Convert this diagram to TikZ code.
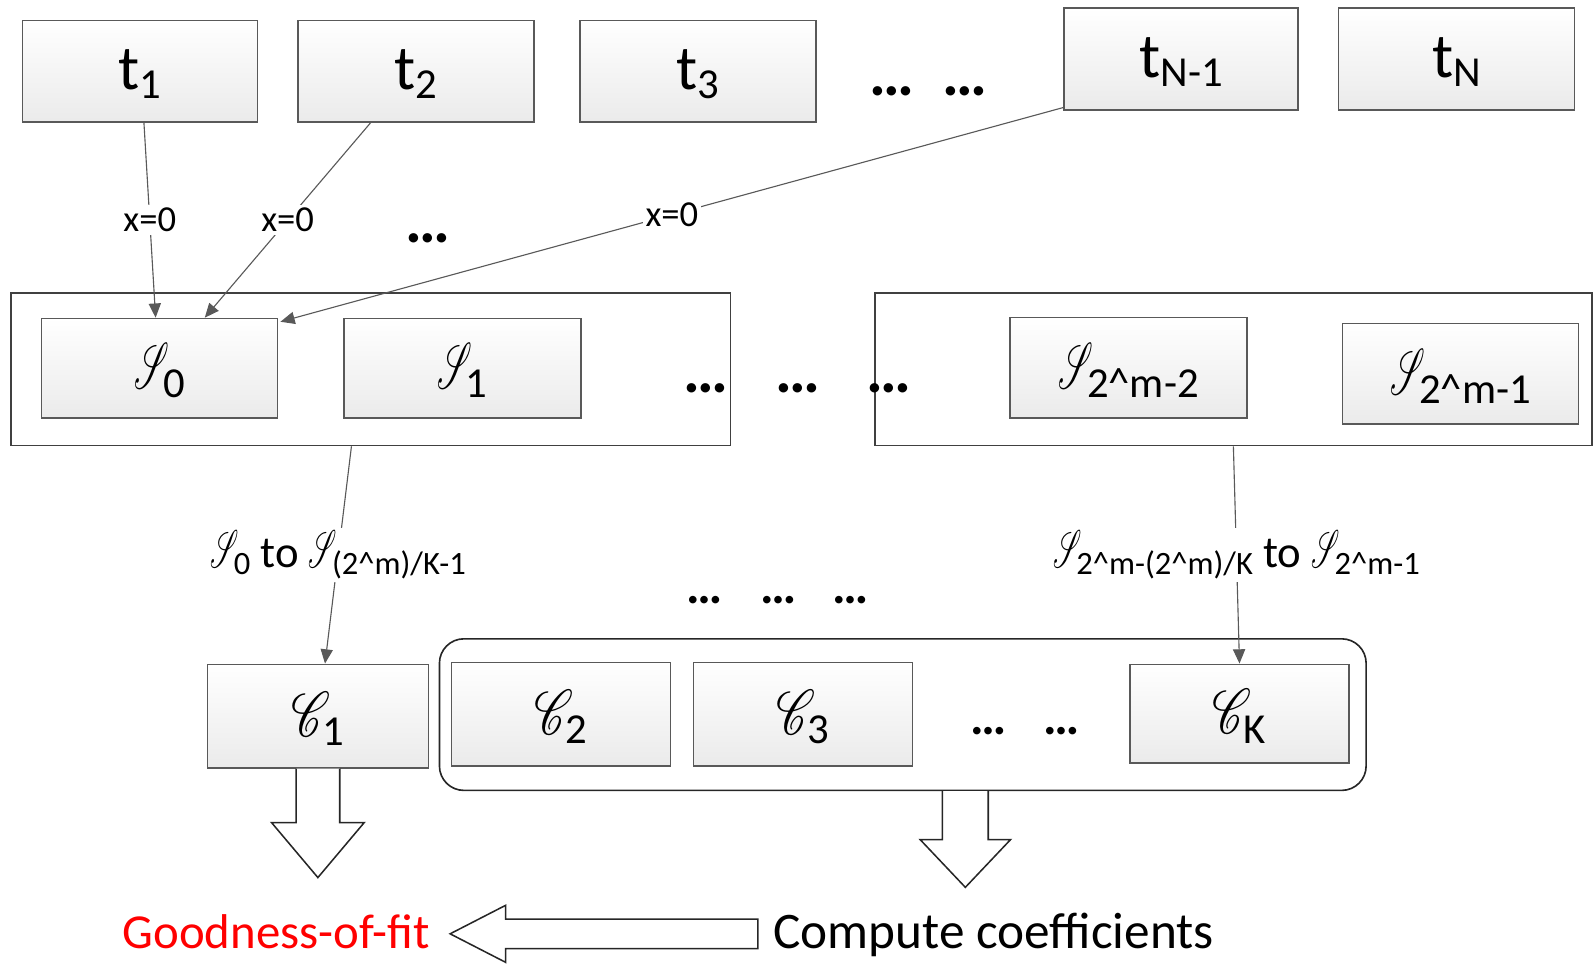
\documentclass[tikz,border=0pt]{standalone}
\usepackage{fontspec}
\usepackage{graphicx}
\setmainfont{Carlito}
\usetikzlibrary{arrows.meta,calc}

% Formal script letters at any size
\DeclareFontFamily{U}{rsfs}{\skewchar\font127 }
\DeclareFontShape{U}{rsfs}{m}{n}{<-> rsfs10}{}
\newcommand\scrS{\scalebox{0.6}[1.18]{\usefont{U}{rsfs}{m}{n}S}}
\newcommand\scrC{\scalebox{0.85}[1.15]{\usefont{U}{rsfs}{m}{n}C}}
\newcommand\caret{\textasciicircum}

% t_i labels in the top row
\newcommand\tlab[1]{\fontsize{31pt}{33pt}\selectfont t\raisebox{-4.5pt}{\fontsize{21pt}{23pt}\selectfont #1}}
% script letter with a subscript, inside the boxes
\newcommand\boxlab[2]{\fontsize{27pt}{30pt}\selectfont #1\raisebox{-4.5pt}{\fontsize{21pt}{23pt}\selectfont #2}}
% script S with a subscript, on the connectors
\newcommand\linelab[1]{\scrS\raisebox{-3.5pt}{\fontsize{16pt}{18pt}\selectfont #1}}

\begin{document}
\begin{tikzpicture}[x=0.5pt,y=-0.5pt,
  tbox/.style={draw=black!65, line width=0.7pt, top color=white, bottom color=black!8,
    inner sep=0pt, text height=20pt, text depth=2pt},
  sbox/.style={tbox, text height=22pt, text depth=2pt},
  grp/.style={draw=black!75, line width=0.7pt, inner sep=0pt},
  conn/.style={draw=black!65, line width=0.55pt, -{Triangle[length=7pt,width=6pt]}},
  xlbl/.style={fill=white, inner sep=1.5pt, font=\fontsize{18pt}{20pt}\selectfont},
  rlbl/.style={fill=white, inner sep=1.5pt, font=\fontsize{22pt}{24pt}\selectfont},
  blockarr/.style={draw=black!85, line width=0.75pt, fill=white, line join=miter},
  bigdots/.style={inner sep=0pt, font=\fontsize{31pt}{33pt}\selectfont\bfseries},
  smalldots/.style={inner sep=0pt, font=\fontsize{25pt}{27pt}\selectfont\bfseries},
]
\useasboundingbox (0,0) rectangle (1568,949);

% top row: t_1 ... t_N
\node[tbox, minimum width=115.5pt, minimum height=50pt] (t1) at (137.5,70) {\tlab{1}};
\node[tbox, minimum width=116pt, minimum height=50pt] (t2) at (409,70) {\tlab{2}};
\node[tbox, minimum width=116pt, minimum height=50pt] (t3) at (686,70) {\tlab{3}};
\node[tbox, minimum width=115pt, minimum height=50pt] (tN1) at (1161,58) {\tlab{N-1}};
\node[tbox, minimum width=116pt, minimum height=50pt] (tN) at (1432,58) {\tlab{N}};
\node[bigdots] (td1) at (877,90) {…};
\node[bigdots] (td2) at (949,90) {…};
\node[bigdots] (md) at (421,234) {…};

% groups of S boxes
\node[grp, minimum width=353.5pt, minimum height=75pt] (g1) at (364.5,363) {};
\node[grp, minimum width=352.5pt, minimum height=75pt] (g2) at (1212.5,363) {};
\node[sbox, minimum width=116pt, minimum height=49pt] (s0) at (157,362) {\boxlab{\scrS}{0}};
\node[sbox, minimum width=116.5pt, minimum height=49pt] (s1) at (454.5,362) {\boxlab{\scrS}{1}};
\node[sbox, minimum width=116.5pt, minimum height=49.5pt] (s2) at (1109.5,361.5) {\boxlab{\scrS}{2\caret m-2}};
\node[sbox, minimum width=116pt, minimum height=49.5pt] (s3) at (1436,367.5) {\boxlab{\scrS}{2\caret m-1}};
\node[bigdots] (sd1) at (694,382) {…};
\node[bigdots] (sd2) at (784,382) {…};
\node[bigdots] (sd3) at (874,382) {…};

% C boxes
\node[draw=black!85, line width=0.8pt, rounded corners=12pt, inner sep=0pt,
  minimum width=455.5pt, minimum height=74.5pt] (cg) at (887.5,702.5) {};
\node[sbox, minimum width=108.5pt, minimum height=51pt] (c1) at (312.5,704) {\boxlab{\scrC}{1}};
\node[sbox, minimum width=107.5pt, minimum height=51pt] (c2) at (551.5,702) {\boxlab{\scrC}{2}};
\node[sbox, minimum width=107.5pt, minimum height=51pt] (c3) at (789.5,702) {\boxlab{\scrC}{3}};
\node[sbox, minimum width=107.5pt, minimum height=48.5pt] (ck) at (1218.5,701.5) {\boxlab{\scrC}{K}};
\node[smalldots] (cd1) at (972,719) {…};
\node[smalldots] (cd2) at (1044,719) {…};
\node[smalldots] (md1) at (693,590) {…};
\node[smalldots] (md2) at (765,590) {…};
\node[smalldots] (md3) at (836,590) {…};

% connectors from the t boxes
\draw[conn] ($(t1.south)+(4,0)$) -- node[xlbl] {x=0} ($(s0.north)+(-4,0)$);
\draw[conn] ($(t2.south west)+(72,0)$) -- node[xlbl] {x=0} ($(s0.north west)+(161,0)$);
\draw[conn] ($(tN1.south west)+(0,-3)$) -- node[xlbl] {x=0} ($(s0.north east)+(2,4)$);

% connectors from the groups to the C boxes
\draw[conn] ($(g1.south)+(-19,0)$) -- node[rlbl] {\linelab{0} to \linelab{(2\caret m)/K-1}} ($(c1.north)+(7,0)$);
\draw[conn] (g2.south) -- node[rlbl] {\linelab{2\caret m-(2\caret m)/K} to \linelab{2\caret m-1}} (ck.north);

% results
\node[inner sep=0pt, font=\fontsize{24pt}{26pt}\selectfont, text=red, anchor=base west] (gof) at (120,932) {Goodness-of-fit};
\node[inner sep=0pt, font=\fontsize{25.2pt}{27pt}\selectfont, anchor=base west] (cc) at (760,932) {Compute coefficients};

% block arrows
\draw[blockarr] ($(c1.south)+(-21.5,0)$) -- ++(0,53) -- ++(-24,0) -- ++(45.5,54) -- ++(45.5,-54) -- ++(-24,0) -- ++(0,-53);
\draw[blockarr] ($(cg.south)+(39,0)$) -- ++(0,47.5) -- ++(-22,0) -- ++(44.5,47) -- ++(44.5,-47) -- ++(-22,0) -- ++(0,-47.5);
\draw[blockarr] ($(cc.base west)+(-15,-28.5)$) -- ++(-248,0) -- ++(0,-13.5) -- ++(-54.5,28) -- ++(54.5,28) -- ++(0,-13.5) -- ++(248,0) -- cycle;
\end{tikzpicture}
\end{document}
